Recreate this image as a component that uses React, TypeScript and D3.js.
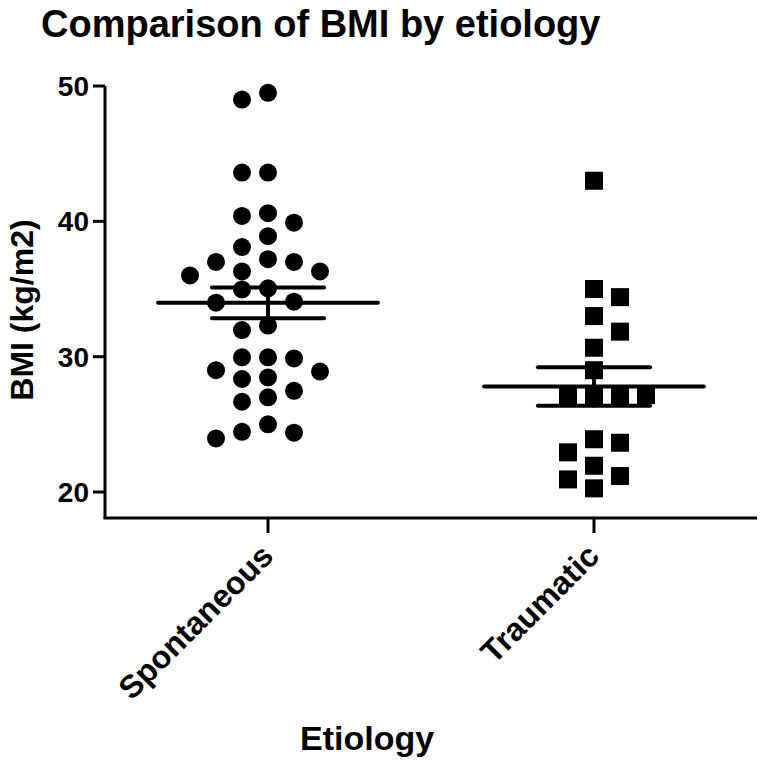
import React from "react";
import * as d3 from "d3";

// Groups on the x axis
const categories = ["Spontaneous", "Traumatic"];

// BMI values (kg/m2)
const spontaneousBMI = [
  49.5, 49.0, 43.6, 43.6, 40.6, 40.4, 39.9, 38.9, 38.1, 37.2, 37.0, 37.0,
  36.3, 36.3, 36.0, 35.05, 34.97, 34.06, 33.99, 32.3, 31.97, 29.95, 29.95,
  29.87, 29.0, 28.9, 28.47, 28.35, 27.48, 27.0, 26.67, 25.0, 24.45, 24.38,
  23.96,
];
const traumaticBMI = [
  43.0, 35.0, 34.4, 33.0, 31.85, 30.66, 29.0, 27.16, 27.16, 27.16, 27.16,
  23.9, 23.64, 22.93, 21.94, 21.18, 20.93, 20.27,
];

const yTicks = [20, 30, 40, 50];

const W = 762;
const H = 762;
const FONT = "'Liberation Sans', Arial, Helvetica, sans-serif";
const R = 9; // symbol radius

// greedy column placement so symbols in one column don't pile up
function swarm(values: number[], y: (v: number) => number, minGap: number, order: number[]) {
  const cols: Record<number, number[]> = {};
  const sorted = values.slice().sort((a, b) => b - a);
  return sorted.map((v) => {
    const py = y(v);
    let c = order.find((k) => !(cols[k] || []).some((q) => Math.abs(q - py) < minGap));
    if (c === undefined) c = 0;
    (cols[c] = cols[c] || []).push(py);
    return { v, col: c };
  });
}

export default function App() {
  const x = d3.scalePoint<string>().domain(categories).range([105, 757]).padding(0.5);
  const y = d3.scaleLinear().domain([18.08, 50]).range([518, 86]);
  const step = x.step();
  const colW = 26;

  const data = [spontaneousBMI, traumaticBMI];
  const orders = [
    [0, -1, 1, -2, 2, -3, 3],
    [0, 1, -1, 2, -2, 3, -3],
  ];
  const groups = data.map((vals, i) => swarm(vals, y, 18, orders[i]));
  const stats = data.map((vals) => {
    const m = d3.mean(vals) as number;
    const sem = (d3.deviation(vals) as number) / Math.sqrt(vals.length);
    return { m, sem };
  });

  const line = d3.line<[number, number]>();

  return (
    <svg
      width={W}
      height={H}
      style={{ position: "absolute", left: 0, top: 0, background: "#fff" }}
      fontFamily={FONT}
      fontWeight="bold"
    >
      <text x={41} y={37} fontSize={38}>
        Comparison of BMI by etiology
      </text>

      {/* y axis */}
      <path d={line([[105, y(50)], [105, 518]]) || ""} stroke="#000" strokeWidth={3} fill="none" />
      {yTicks.map((t) => (
        <g key={t}>
          <path d={line([[93, y(t)], [105, y(t)]]) || ""} stroke="#000" strokeWidth={3} />
          <text x={89} y={y(t)} dy="0.36em" textAnchor="end" fontSize={28}>
            {t}
          </text>
        </g>
      ))}
      <text
        transform={`translate(33, ${(y(50) + 518) / 2 + 8}) rotate(-90)`}
        textAnchor="middle"
        fontSize={32}
      >
        BMI (kg/m2)
      </text>

      {/* x axis */}
      <path d={line([[103.5, 518], [757, 518]]) || ""} stroke="#000" strokeWidth={3} fill="none" />
      {categories.map((c) => {
        const cx = x(c) as number;
        return (
          <g key={c}>
            <path d={line([[cx, 518], [cx, 533]]) || ""} stroke="#000" strokeWidth={3} />
            <text
              transform={`translate(${cx + 7}, 558) rotate(-45)`}
              textAnchor="end"
              fontSize={32}
            >
              {c}
            </text>
          </g>
        );
      })}
      <text x={300} y={750} fontSize={34}>
        Etiology
      </text>

      {/* points */}
      {groups.map((pts, gi) => {
        const cx = x(categories[gi]) as number;
        return (
          <g key={gi}>
            {pts.map((p, i) =>
              gi === 0 ? (
                <circle key={i} cx={cx + p.col * colW} cy={y(p.v)} r={R} fill="#000" />
              ) : (
                <rect
                  key={i}
                  x={cx + p.col * colW - R}
                  y={y(p.v) - R}
                  width={2 * R}
                  height={2 * R}
                  fill="#000"
                />
              )
            )}
          </g>
        );
      })}

      {/* mean +/- SEM */}
      {categories.map((c, gi) => {
        const cx = x(c) as number;
        const { m, sem } = stats[gi];
        const hw = step * 0.337;
        const sw = step * 0.172;
        return (
          <g key={c} stroke="#000" strokeWidth={4} strokeLinecap="round" fill="none">
            <path d={line([[cx - hw, y(m)], [cx + hw, y(m)]]) || ""} />
            <path d={line([[cx - sw, y(m + sem)], [cx + sw, y(m + sem)]]) || ""} />
            <path d={line([[cx - sw, y(m - sem)], [cx + sw, y(m - sem)]]) || ""} />
            <path d={line([[cx, y(m + sem)], [cx, y(m - sem)]]) || ""} />
          </g>
        );
      })}
    </svg>
  );
}
